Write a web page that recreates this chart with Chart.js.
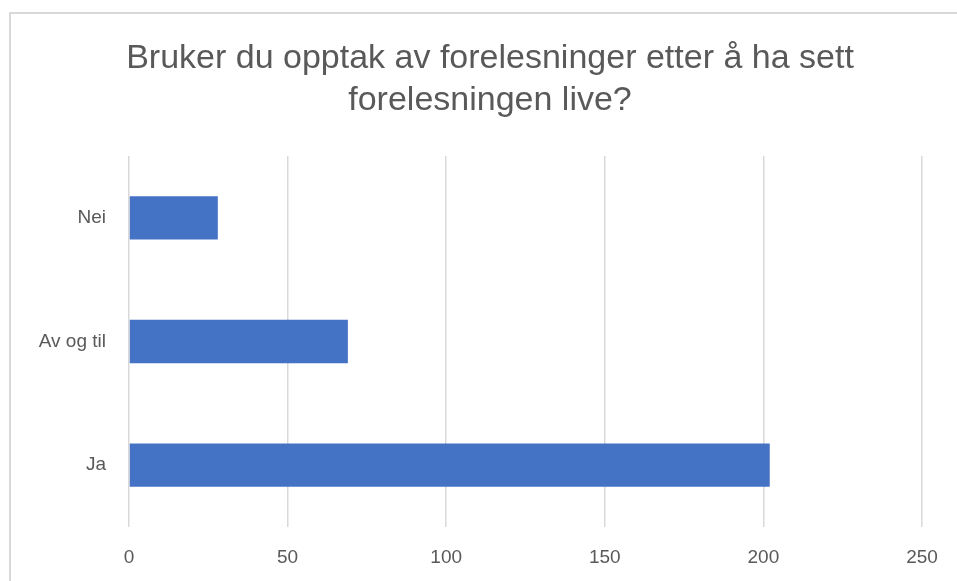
<!DOCTYPE html>
<html>
<head>
<meta charset="utf-8">
<script src="https://cdn.jsdelivr.net/npm/chart.js@4/dist/chart.umd.min.js"></script>
<style>
    html, body { margin: 0; padding: 0; background: #fff; }
    #wrap { width: 957px; height: 581px; position: relative; }
</style>
</head>
<body>
<div id="wrap"><canvas id="chart" width="957" height="581"></canvas></div>
<script>
// data
const categories = ['Nei', 'Av og til', 'Ja'];
const answers = [28, 69, 202];
const titleLines = ['Bruker du opptak av forelesninger etter å ha sett', 'forelesningen live?'];

// light grey frame round the chart, cut off at right and bottom like the original
const framePlugin = {
    id: 'frame',
    afterLayout(chart) {
        // Excel centres the title a bit right of the plot; nudge the title box
        const t = chart.titleBlock;
        if (t) { t.left += 19; t.right += 19; }
    },
    beforeDraw(chart) {
        const ctx = chart.ctx;
        ctx.save();
        ctx.strokeStyle = '#d9d9d9';
        ctx.lineWidth = 2;
        ctx.beginPath();
        ctx.moveTo(10, chart.height + 5);
        ctx.lineTo(10, 13);
        ctx.lineTo(chart.width + 5, 13);
        ctx.stroke();
        ctx.restore();
    }
};

const ctx = document.getElementById('chart').getContext('2d');
new Chart(ctx, {
    type: 'bar',
    data: {
        labels: categories,
        datasets: [{
            label: 'Antall',
            data: answers,
            backgroundColor: '#4472c4',
            borderWidth: 0,
            categoryPercentage: 1,
            barPercentage: 0.35
        }]
    },
    options: {
        indexAxis: 'y',
        responsive: false,
        animation: false,
        layout: {
            padding: { left: 20, right: 35, top: 0, bottom: 0 }
        },
        scales: {
            x: {
                min: 0,
                max: 250,
                ticks: {
                    stepSize: 50,
                    padding: 19,
                    color: '#595959',
                    font: { family: 'Liberation Sans', size: 19 }
                },
                grid: { color: '#d9d9d9', lineWidth: 1.5, drawTicks: false },
                border: { display: false },
                afterFit(scale) { scale.height = 54; }
            },
            y: {
                ticks: {
                    padding: 23,
                    color: '#595959',
                    font: { family: 'Liberation Sans', size: 19 }
                },
                grid: { display: false, drawTicks: false },
                border: { display: false },
                afterFit(scale) { scale.width = 109; }
            }
        },
        plugins: {
            legend: { display: false },
            tooltip: { enabled: false },
            title: {
                display: true,
                text: titleLines,
                color: '#595959',
                font: { family: 'Liberation Sans', size: 34, weight: 'normal', lineHeight: 1.235 },
                padding: { top: 38, bottom: 34 }
            }
        }
    },
    plugins: [framePlugin]
});
</script>
</body>
</html>
